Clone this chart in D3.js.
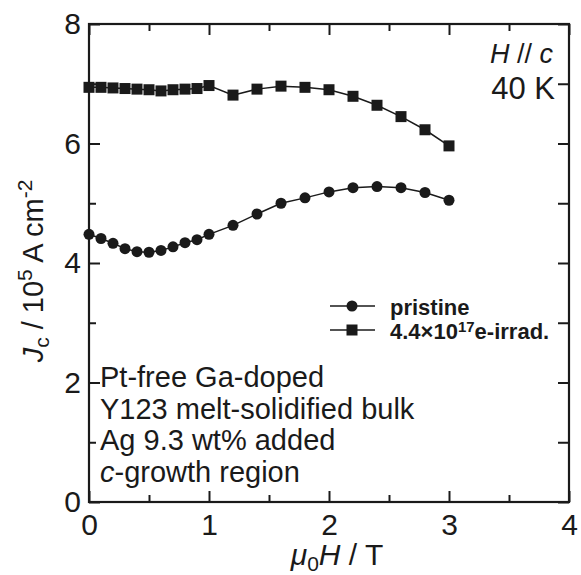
<!DOCTYPE html>
<html>
<head>
<meta charset="utf-8">
<script src="https://cdn.jsdelivr.net/npm/d3@7"></script>
<style>
  body { margin: 0; background: #fff; }
  text { font-family: "Liberation Sans", Arial, sans-serif; fill: #1a1a1a; }
</style>
</head>
<body>
<svg id="chart" width="581" height="575"></svg>
<script>
// field values (T)
var fields = [0, 0.1, 0.2, 0.3, 0.4, 0.5, 0.6, 0.7, 0.8, 0.9, 1.0,
              1.2, 1.4, 1.6, 1.8, 2.0, 2.2, 2.4, 2.6, 2.8, 3.0];
// Jc in 10^5 A cm^-2
var pristine = [4.48, 4.41, 4.33, 4.24, 4.19, 4.18, 4.21, 4.27, 4.34, 4.39, 4.48,
                4.63, 4.82, 5.00, 5.09, 5.19, 5.26, 5.28, 5.26, 5.18, 5.05];
var irradiated = [6.94, 6.94, 6.93, 6.92, 6.91, 6.90, 6.88, 6.90, 6.91, 6.92, 6.97,
                  6.81, 6.91, 6.96, 6.94, 6.90, 6.79, 6.64, 6.45, 6.23, 5.96];
var xTicks = [0, 1, 2, 3, 4],
    yTicks = [0, 2, 4, 6, 8],
    xMinor = [0.5, 1.5, 2.5, 3.5],
    yMinor = [1, 3, 5, 7];
var infoLines = ["Pt-free Ga-doped", "Y123 melt-solidified bulk", "Ag 9.3 wt% added", "c-growth region"];

var ink = "#1a1a1a",
    margin = {left: 89, top: 24, right: 12, bottom: 73},
    width = 581 - margin.left - margin.right,
    height = 575 - margin.top - margin.bottom;

var svg = d3.select("#chart"),
    g = svg.append("g").attr("transform", "translate(" + margin.left + "," + margin.top + ")");

var x = d3.scaleLinear().domain([0, 4]).range([0, width]),
    y = d3.scaleLinear().domain([0, 8]).range([height, 0]);

function styleAxis(sel) {
  sel.select(".domain").remove();
  sel.selectAll("line").attr("stroke", ink).attr("stroke-width", 2);
}

// major + minor ticks, pointing inward, on all four sides
g.append("g").attr("transform", "translate(0," + height + ")")
  .call(d3.axisBottom(x).tickValues(xTicks).tickSize(-11).tickPadding(12).tickFormat(d3.format("d")))
  .call(styleAxis)
  .selectAll("text").style("font-size", "30px").attr("fill", ink);
g.append("g").attr("transform", "translate(0," + height + ")")
  .call(d3.axisBottom(x).tickValues(xMinor).tickSize(-7).tickFormat(""))
  .call(styleAxis);
g.append("g")
  .call(d3.axisTop(x).tickValues(xTicks).tickSize(-11).tickFormat(""))
  .call(styleAxis);
g.append("g")
  .call(d3.axisTop(x).tickValues(xMinor).tickSize(-7).tickFormat(""))
  .call(styleAxis);
g.append("g")
  .call(d3.axisLeft(y).tickValues(yTicks).tickSize(-11).tickPadding(8).tickFormat(d3.format("d")))
  .call(styleAxis)
  .selectAll("text").style("font-size", "30px").attr("fill", ink);
g.append("g")
  .call(d3.axisLeft(y).tickValues(yMinor).tickSize(-7).tickFormat(""))
  .call(styleAxis);
g.append("g").attr("transform", "translate(" + width + ",0)")
  .call(d3.axisRight(y).tickValues(yTicks).tickSize(-11).tickFormat(""))
  .call(styleAxis);
g.append("g").attr("transform", "translate(" + width + ",0)")
  .call(d3.axisRight(y).tickValues(yMinor).tickSize(-11).tickFormat(""))
  .call(styleAxis);

g.append("rect")
  .attr("width", width).attr("height", height)
  .attr("fill", "none").attr("stroke", ink).attr("stroke-width", 2.2);

// series
var line = d3.line()
  .x(function(d) { return x(d[0]); })
  .y(function(d) { return y(d[1]); });

var pristinePts = fields.map(function(f, i) { return [f, pristine[i]]; }),
    irradPts = fields.map(function(f, i) { return [f, irradiated[i]]; });

g.append("path").datum(pristinePts).attr("d", line)
  .attr("fill", "none").attr("stroke", ink).attr("stroke-width", 1.5);
g.append("path").datum(irradPts).attr("d", line)
  .attr("fill", "none").attr("stroke", ink).attr("stroke-width", 1.5);

g.selectAll(".pt-circle").data(pristinePts)
  .enter().append("circle")
  .attr("class", "pt-circle")
  .attr("cx", function(d) { return x(d[0]); })
  .attr("cy", function(d) { return y(d[1]); })
  .attr("r", 5.5)
  .attr("fill", ink);

var sq = 11;
g.selectAll(".pt-square").data(irradPts)
  .enter().append("rect")
  .attr("class", "pt-square")
  .attr("x", function(d) { return x(d[0]) - sq/2; })
  .attr("y", function(d) { return y(d[1]) - sq/2; })
  .attr("width", sq).attr("height", sq)
  .attr("fill", ink);

// legend
var legend = svg.append("g").attr("transform", "translate(330,306)");
legend.append("line").attr("x1", 0).attr("x2", 45).attr("y1", 0).attr("y2", 0)
  .attr("stroke", ink).attr("stroke-width", 1.5);
legend.append("circle").attr("cx", 22).attr("cy", 0).attr("r", 5.5).attr("fill", ink);
legend.append("text").attr("x", 60).attr("y", 9)
  .style("font-size", "22px").style("font-weight", "bold").text("pristine");
legend.append("line").attr("x1", 0).attr("x2", 45).attr("y1", 24).attr("y2", 24)
  .attr("stroke", ink).attr("stroke-width", 1.5);
legend.append("rect").attr("x", 22 - sq/2).attr("y", 24 - sq/2).attr("width", sq).attr("height", sq).attr("fill", ink);
var lt = legend.append("text").attr("x", 60).attr("y", 33)
  .style("font-size", "22px").style("font-weight", "bold");
lt.append("tspan").text("4.4×10");
lt.append("tspan").attr("dy", -7).style("font-size", "15px").text("17");
lt.append("tspan").attr("dy", 7).text("e-irrad.");

// condition labels, top right
var cond = svg.append("text").attr("x", 553).attr("y", 63)
  .attr("text-anchor", "end").style("font-size", "27px");
cond.append("tspan").style("font-style", "italic").text("H");
cond.append("tspan").text(" // ");
cond.append("tspan").style("font-style", "italic").text("c");
svg.append("text").attr("x", 555).attr("y", 99)
  .attr("text-anchor", "end").style("font-size", "31px").text("40 K");

// sample description
var info = svg.append("g");
infoLines.forEach(function(s, i) {
  var t = info.append("text").attr("x", 100).attr("y", 387 + i * 31.6)
    .style("font-size", "29px");
  if (s.charAt(0) === "c") {
    t.append("tspan").style("font-style", "italic").text("c");
    t.append("tspan").text(s.slice(1));
  } else {
    t.text(s);
  }
});

// axis titles
var xt = svg.append("text").attr("x", 337).attr("y", 565)
  .attr("text-anchor", "middle").style("font-size", "30px");
xt.append("tspan").style("font-style", "italic").text("μ");
xt.append("tspan").attr("dy", 6).style("font-size", "21px").text("0");
xt.append("tspan").attr("dy", -6).style("font-style", "italic").text("H");
xt.append("tspan").text(" / T");

var yt = svg.append("text")
  .attr("transform", "translate(43,271) rotate(-90)")
  .attr("text-anchor", "middle").style("font-size", "29px");
yt.append("tspan").style("font-style", "italic").text("J");
yt.append("tspan").attr("dy", 6).style("font-size", "21px").text("c");
yt.append("tspan").attr("dy", -6).text(" / 10");
yt.append("tspan").attr("dy", -11).style("font-size", "21px").text("5");
yt.append("tspan").attr("dy", 11).text(" A cm");
yt.append("tspan").attr("dy", -11).style("font-size", "21px").text("-2");
</script>
</body>
</html>
